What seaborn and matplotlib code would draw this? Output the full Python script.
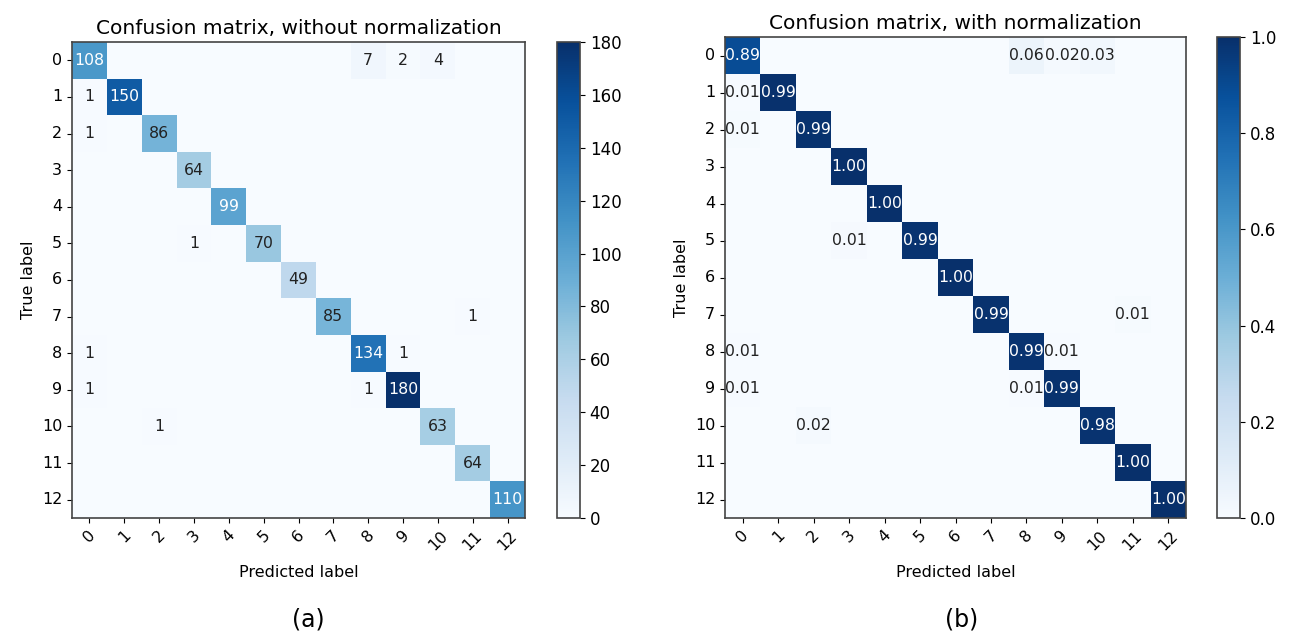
import numpy as np
import matplotlib
matplotlib.use("Agg")
import matplotlib.pyplot as plt
import seaborn as sns

# class labels and confusion counts
class_labels = ["0", "1", "2", "3", "4", "5", "6", "7", "8", "9", "10", "11", "12"]
diag_counts = [108, 150, 86, 64, 99, 70, 49, 85, 134, 180, 63, 64, 110]
off_rows = [0, 0, 0, 1, 2, 5, 7, 8, 8, 9, 9, 10]
off_cols = [8, 9, 10, 0, 0, 3, 11, 0, 9, 0, 8, 2]
off_counts = [7, 2, 4, 1, 1, 1, 1, 1, 1, 1, 1, 1]

cm = np.diag(diag_counts).astype(float)
cm[off_rows, off_cols] = off_counts
cm_norm = cm / cm.sum(axis=1, keepdims=True)

W, H = 1295, 642
fig = plt.figure(figsize=(W / 100, H / 100), dpi=100)


def box(x0, y0, x1, y1):
    return [x0 / W, 1 - y1 / H, (x1 - x0) / W, (y1 - y0) / H]


def plot_cm(ax, cax, mat, fmt, vmax, cticks, title):
    annot = np.where(cm > 0, np.vectorize(lambda v: format(v, fmt))(mat), "")
    sns.heatmap(mat, ax=ax, cbar_ax=cax, cmap="Blues", vmin=0, vmax=vmax,
                annot=annot, fmt="", annot_kws={"fontsize": 11.3},
                xticklabels=class_labels, yticklabels=class_labels,
                cbar_kws={"ticks": cticks})
    thresh = vmax / 2.0
    for txt, v in zip(ax.texts, mat.flat):
        txt.set_color("white" if v > thresh else "#222222")
    for sp in ax.spines.values():
        sp.set_visible(True)
        sp.set_linewidth(1.2)
        sp.set_color("#444444")
    cb = ax.collections[0].colorbar
    cb.outline.set_linewidth(1.2)
    cb.outline.set_edgecolor("#444444")
    cb.ax.tick_params(labelsize=12)
    ax.set_title(title, fontsize=14.5)
    ax.set_xlabel("Predicted label", fontsize=11.5, labelpad=9)
    ax.set_ylabel("True label", fontsize=11.5)
    ax.tick_params(labelsize=11.5)
    plt.setp(ax.get_xticklabels(), rotation=45, ha="center")
    plt.setp(ax.get_yticklabels(), rotation=0)


ax1 = fig.add_axes(box(72, 42, 525, 518))
cax1 = fig.add_axes(box(557, 42, 580, 518))
plot_cm(ax1, cax1, cm, ".0f", 180, list(range(0, 181, 20)),
        "Confusion matrix, without normalization")

ax2 = fig.add_axes(box(725, 37, 1186, 518))
cax2 = fig.add_axes(box(1217, 37, 1240, 518))
plot_cm(ax2, cax2, cm_norm, ".2f", 1.0, [0.0, 0.2, 0.4, 0.6, 0.8, 1.0],
        "Confusion matrix, with normalization")
cax2.yaxis.set_major_formatter(matplotlib.ticker.FormatStrFormatter("%.1f"))

fig.text(308 / W, 1 - 620 / H, "(a)", fontsize=17, ha="center", va="center")
fig.text(962 / W, 1 - 620 / H, "(b)", fontsize=17, ha="center", va="center")

fig.savefig("out.png", dpi=100)
